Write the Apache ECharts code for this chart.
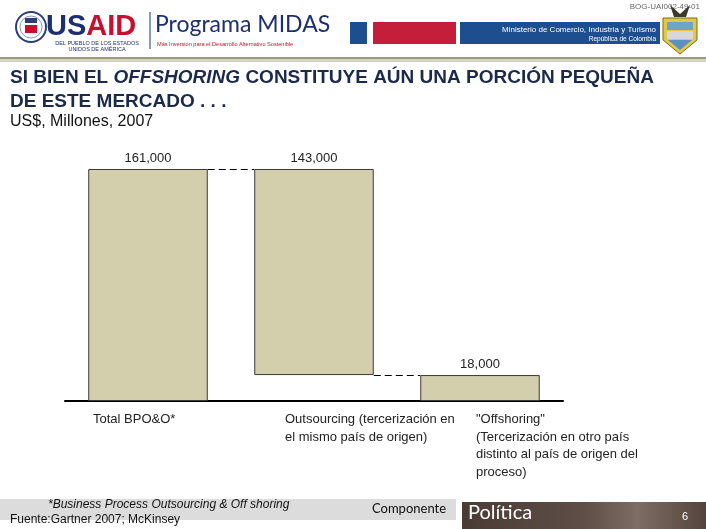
<!DOCTYPE html>
<html>
<head>
<meta charset="utf-8">
<script src="https://cdn.jsdelivr.net/npm/echarts@6/dist/echarts.min.js"></script>
<style>
html,body{margin:0;padding:0;background:#fff;}
#c{width:706px;height:529px;}
</style>
</head>
<body>
<div id="c"></div>
<script>
// ---- data ----
var categories = ['Total BPO&O*', 'Outsourcing', 'Offshoring'];
var categoryLabels = [
  'Total BPO&O*',
  'Outsourcing (tercerización en\nel mismo país de origen)',
  '"Offshoring"\n(Tercerización en otro país\ndistinto al país de origen del\nproceso)'
];
var totalValue = 161000;
var outsourcingValue = 143000;
var offshoringValue = 18000;
var barValues = [totalValue, outsourcingValue, offshoringValue];
var barBases = [0, totalValue - outsourcingValue, 0];

// ---- layout / style ----
var labelOffsets = [-55, -29, -4];
var barColor = '#d3cfac';
var navy = '#1b2a4a';

function fmt(v) { return v.toLocaleString('en-US'); }

var chart = echarts.init(document.getElementById('c'), null, {renderer: 'canvas'});

var connectors = [
  {from: 0, to: 1, value: barBases[1] + barValues[1]},
  {from: 1, to: 2, value: barBases[1]}
];

var option = {
  animation: false,
  backgroundColor: '#ffffff',
  textStyle: {fontFamily: 'Liberation Sans'},
  grid: {left: 65, right: 143, top: 169, bottom: 128},
  xAxis: {
    type: 'category',
    data: categories,
    axisLine: {lineStyle: {color: '#000', width: 2}},
    axisTick: {show: false},
    axisLabel: {show: false}
  },
  yAxis: {
    type: 'value', min: 0, max: totalValue,
    show: false, splitLine: {show: false}
  },
  series: [
    {
      type: 'bar', stack: 'w', barWidth: '72%',
      data: barBases,
      itemStyle: {color: 'rgba(0,0,0,0)', borderWidth: 0},
      silent: true
    },
    {
      type: 'bar', stack: 'w', barWidth: '72%',
      data: barValues,
      itemStyle: {color: barColor, borderColor: '#3a3a3a', borderWidth: 1},
      label: {
        show: true, position: 'top', distance: 4,
        color: '#222', fontSize: 13, fontFamily: 'Liberation Sans',
        formatter: function (p) { return fmt(p.value); }
      }
    },
    {
      type: 'custom',
      data: connectors.map(function (c) { return [c.from, c.to, c.value]; }),
      renderItem: function (params, api) {
        var a = api.coord([api.value(0), api.value(2)]);
        var b = api.coord([api.value(1), api.value(2)]);
        var bw = api.size([1, 0])[0] * 0.72 / 2;
        var y = Math.round(a[1]) + 0.5;
        return {
          type: 'line',
          shape: {x1: a[0] + bw, y1: y, x2: b[0] - bw, y2: y},
          style: {stroke: '#000', lineWidth: 1, lineDash: [7, 4]}
        };
      },
      z: 5
    }
  ]
};
chart.setOption(option);

// category labels positioned through the axis scale
var gfx = [];
categories.forEach(function (c, i) {
  var px = chart.convertToPixel({xAxisIndex: 0}, c);
  gfx.push({
    type: 'text', x: px + labelOffsets[i], y: 411,
    style: {text: categoryLabels[i], fill: '#222', font: '13px "Liberation Sans"',
            lineHeight: 17.5, verticalAlign: 'top', align: 'left'}
  });
});

// header
gfx = gfx.concat([
  {type: 'circle', shape: {cx: 31, cy: 27, r: 15}, style: {fill: '#fff', stroke: '#2a3f78', lineWidth: 2}},
  {type: 'circle', shape: {cx: 31, cy: 27, r: 11}, style: {fill: '#fff', stroke: '#8a93b8', lineWidth: 1}},
  {type: 'rect', shape: {x: 25, y: 18, width: 12, height: 5}, style: {fill: '#2a3f78'}},
  {type: 'rect', shape: {x: 25, y: 25, width: 12, height: 8}, style: {fill: '#c8102e'}},
  {type: 'text', x: 46, y: 12, style: {text: '{a|US}{b|AID}', rich: {
    a: {font: 'bold 29px "Liberation Sans"', fill: '#1d2f6f'},
    b: {font: 'bold 29px "Liberation Sans"', fill: '#c8102e'}}}},
  {type: 'text', x: 97, y: 40, style: {text: 'DEL PUEBLO DE LOS ESTADOS\nUNIDOS DE AMÉRICA', fill: '#1d2f6f',
    font: '5.5px "Liberation Sans"', align: 'center', lineHeight: 6}},
  {type: 'line', shape: {x1: 150, y1: 12, x2: 150, y2: 49}, style: {stroke: '#1d2f6f', lineWidth: 1}},
  {type: 'text', x: 155, y: 13, style: {text: 'Programa MIDAS', fill: '#1d2f6f', font: '23px Lato'}},
  {type: 'text', x: 157, y: 41, style: {text: 'Más Inversión para el Desarrollo Alternativo Sostenible',
    fill: '#c8102e', font: '5.6px "Liberation Sans"'}},
  {type: 'rect', shape: {x: 350, y: 22, width: 17, height: 22}, style: {fill: '#1d4e8f'}},
  {type: 'rect', shape: {x: 373, y: 22, width: 83, height: 22}, style: {fill: '#c41e3a'}},
  {type: 'rect', shape: {x: 460, y: 22, width: 200, height: 22}, style: {fill: '#1d4e8f'}},
  {type: 'text', x: 656, y: 26, style: {text: 'Ministerio de Comercio, Industria y Turismo', fill: '#fff',
    font: '8px "Liberation Sans"', align: 'right'}},
  {type: 'text', x: 656, y: 36, style: {text: 'República de Colombia', fill: '#fff',
    font: '6.5px "Liberation Sans"', align: 'right'}},
  {type: 'text', x: 700, y: 3, style: {text: 'BOG-UAI002-49-01', fill: '#666',
    font: '8px "Liberation Sans"', align: 'right'}},
  {type: 'polygon', shape: {points: [[663, 18], [697, 18], [697, 40], [680, 54], [663, 40]]},
    style: {fill: '#e2c84a', stroke: '#7a6a20', lineWidth: 1}},
  {type: 'rect', shape: {x: 667, y: 22, width: 26, height: 8}, style: {fill: '#6fa4c8'}},
  {type: 'rect', shape: {x: 667, y: 31, width: 26, height: 8}, style: {fill: '#d8d8d8'}},
  {type: 'polygon', shape: {points: [[668, 40], [692, 40], [680, 50]]}, style: {fill: '#5a8fc0'}},
  {type: 'polygon', shape: {points: [[670, 5], [680, 14], [690, 5], [686, 17], [674, 17]]}, style: {fill: '#3b3b2a'}},
  {type: 'rect', shape: {x: 0, y: 57, width: 706, height: 2}, style: {fill: '#9f9a7e'}},
  {type: 'rect', shape: {x: 0, y: 59, width: 706, height: 3}, style: {fill: '#d6d3c4'}},
  // title
  {type: 'text', x: 10, y: 66, style: {text: '{n|SI BIEN EL }{i|OFFSHORING}{n| CONSTITUYE AÚN UNA PORCIÓN PEQUEÑA}\n{n|DE ESTE MERCADO . . .}',
    lineHeight: 24, rich: {
      n: {font: 'bold 19px "Liberation Sans"', fill: navy, lineHeight: 24},
      i: {font: 'italic bold 19px "Liberation Sans"', fill: navy, lineHeight: 24}}}},
  {type: 'text', x: 10, y: 114, style: {text: 'US$, Millones, 2007', fill: '#111', font: '16px "Liberation Sans"'}},
  // footer
  {type: 'rect', shape: {x: 0, y: 499, width: 456, height: 21}, style: {fill: '#dcdcdc'}},
  {type: 'text', x: 48, y: 499, style: {text: '*Business Process Outsourcing & Off shoring', fill: '#111',
    font: 'italic 12px "Liberation Sans"'}},
  {type: 'text', x: 10, y: 514, style: {text: 'Fuente:Gartner 2007; McKinsey', fill: '#111',
    font: '12px "Liberation Sans"'}},
  {type: 'text', x: 372, y: 502, style: {text: 'Componente', fill: '#111', font: '13px Lato'}},
  {type: 'rect', shape: {x: 462, y: 502, width: 244, height: 27}, style: {
    fill: new echarts.graphic.LinearGradient(0, 0, 1, 0, [
      {offset: 0, color: '#4a3b35'}, {offset: 0.5, color: '#5e4e47'},
      {offset: 0.72, color: '#7d6d64'}, {offset: 1, color: '#54443d'}])}},
  {type: 'text', x: 468, y: 503, style: {text: 'Política', fill: '#fff', font: '20px Lato'}},
  {type: 'text', x: 682, y: 511, style: {text: '6', fill: '#fff', font: '11px "Liberation Sans"'}}
]);
chart.setOption({graphic: gfx});
</script>
</body>
</html>
